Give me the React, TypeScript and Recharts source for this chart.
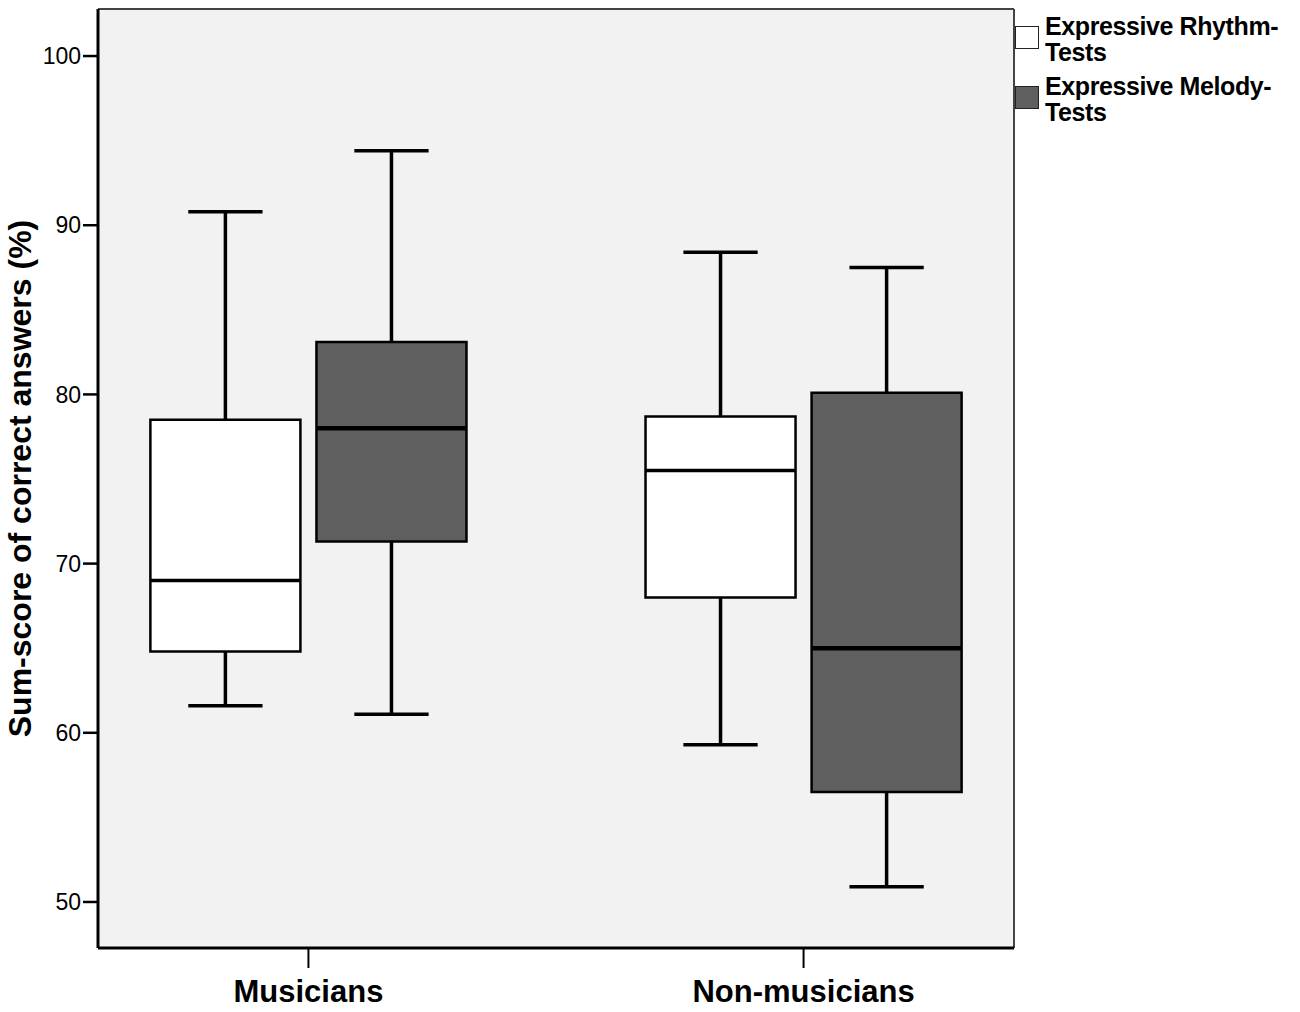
import {
  CartesianGrid,
  ComposedChart,
  ReferenceArea,
  ReferenceLine,
  XAxis,
  YAxis,
} from "recharts";

const GROUPS = ["Musicians", "Non-musicians"];
const SERIES = ["Expressive Rhythm-Tests", "Expressive Melody-Tests"];
const SERIES_COLORS = ["#ffffff", "#5f5f5f"];

// box-plot stats per group (%)
const rhythmMin = [61.6, 59.3];
const rhythmQ1 = [64.8, 68.0];
const rhythmMedian = [69.0, 75.5];
const rhythmQ3 = [78.5, 78.7];
const rhythmMax = [90.8, 88.4];

const melodyMin = [61.1, 50.9];
const melodyQ1 = [71.3, 56.5];
const melodyMedian = [78.0, 65.0];
const melodyQ3 = [83.1, 80.1];
const melodyMax = [94.4, 87.5];

const Y_TICKS = [50, 60, 70, 80, 90, 100];

const stats = [
  { min: rhythmMin, q1: rhythmQ1, med: rhythmMedian, q3: rhythmQ3, max: rhythmMax },
  { min: melodyMin, q1: melodyQ1, med: melodyMedian, q3: melodyQ3, max: melodyMax },
];

// layout in x-axis units (group i sits at i + 1)
const OFFSETS = [-0.1677, 0.1677];
const BOX_HALF = 0.1515;
const CAP_HALF = 0.075;
const X_DOMAIN: [number, number] = [0.575, 2.425];
const Y_DOMAIN: [number, number] = [47.28, 102.78];

const FONT = "'Liberation Sans', Arial, sans-serif";

function Legend() {
  return (
    <div
      style={{
        position: "absolute",
        left: 1015,
        top: 13,
        fontFamily: FONT,
        fontWeight: "bold",
        fontSize: 25,
        lineHeight: "26px",
        color: "#000",
      }}
    >
      {SERIES.map((name, i) => {
        const [a, b] = name.split("-");
        return (
          <div key={name} style={{ display: "flex", alignItems: "flex-start", marginBottom: 8 }}>
            <div
              style={{
                width: 22,
                height: 21,
                marginTop: 13,
                border: "1.5px solid #222",
                background: SERIES_COLORS[i],
                flexShrink: 0,
              }}
            />
            <div style={{ marginLeft: 6, letterSpacing: -0.4, whiteSpace: "nowrap" }}>
              <div>{a}-</div>
              <div>{b}</div>
            </div>
          </div>
        );
      })}
    </div>
  );
}

export default function App() {
  const boxes = GROUPS.flatMap((g, gi) =>
    stats.map((s, si) => {
      const c = gi + 1 + OFFSETS[si];
      const key = `${g}-${si}`;
      return (
        <g key={key}>
          <ReferenceLine
            segment={[{ x: c, y: s.max[gi] }, { x: c, y: s.q3[gi] }]}
            stroke="#000"
            strokeWidth={3.5}
          />
          <ReferenceLine
            segment={[{ x: c, y: s.min[gi] }, { x: c, y: s.q1[gi] }]}
            stroke="#000"
            strokeWidth={3.5}
          />
          <ReferenceLine
            segment={[{ x: c - CAP_HALF, y: s.max[gi] }, { x: c + CAP_HALF, y: s.max[gi] }]}
            stroke="#000"
            strokeWidth={3.5}
          />
          <ReferenceLine
            segment={[{ x: c - CAP_HALF, y: s.min[gi] }, { x: c + CAP_HALF, y: s.min[gi] }]}
            stroke="#000"
            strokeWidth={3.5}
          />
          <ReferenceArea
            x1={c - BOX_HALF}
            x2={c + BOX_HALF}
            y1={s.q1[gi]}
            y2={s.q3[gi]}
            fill={SERIES_COLORS[si]}
            fillOpacity={1}
            stroke="#000"
            strokeWidth={2.5}
          />
          <ReferenceLine
            segment={[{ x: c - BOX_HALF, y: s.med[gi] }, { x: c + BOX_HALF, y: s.med[gi] }]}
            stroke="#000"
            strokeWidth={si === 0 ? 3.5 : 4.5}
          />
        </g>
      );
    })
  );

  return (
    <div style={{ position: "absolute", left: 0, top: 0, width: 1300, height: 1012, background: "#fff" }}>
      <ComposedChart
        width={1300}
        height={1012}
        margin={{ top: 9, right: 286, bottom: 0, left: 0 }}
        style={{ fontFamily: FONT }}
      >
        <CartesianGrid fill="#f2f2f2" horizontal={false} vertical={false} />
        <ReferenceLine y={Y_DOMAIN[1]} stroke="#444" strokeWidth={2} ifOverflow="visible" />
        <ReferenceLine x={X_DOMAIN[1]} stroke="#444" strokeWidth={2} ifOverflow="visible" />
        <XAxis
          type="number"
          dataKey="x"
          domain={X_DOMAIN}
          ticks={[1, 2]}
          allowDataOverflow
          height={64}
          tickSize={20}
          tickMargin={12}
          tickFormatter={(v: number) => GROUPS[Math.round(v) - 1] ?? ""}
          tick={{ fill: "#000", fontSize: 31, fontWeight: "bold" }}
          tickLine={{ stroke: "#000", strokeWidth: 2 }}
          axisLine={{ stroke: "#000", strokeWidth: 3 }}
        />
        <YAxis
          type="number"
          domain={Y_DOMAIN}
          ticks={Y_TICKS}
          allowDataOverflow
          width={98}
          tickSize={15}
          tick={{ fill: "#000", fontSize: 23 }}
          tickLine={{ stroke: "#000", strokeWidth: 2.5 }}
          axisLine={{ stroke: "#000", strokeWidth: 3 }}
          label={{
            value: "Sum-score of correct answers (%)",
            angle: -90,
            position: "insideLeft",
            offset: 20,
            style: { textAnchor: "middle" },
            fill: "#000",
            fontSize: 32,
            fontWeight: "bold",
          }}
        />
        {boxes}
      </ComposedChart>
      <Legend />
    </div>
  );
}
